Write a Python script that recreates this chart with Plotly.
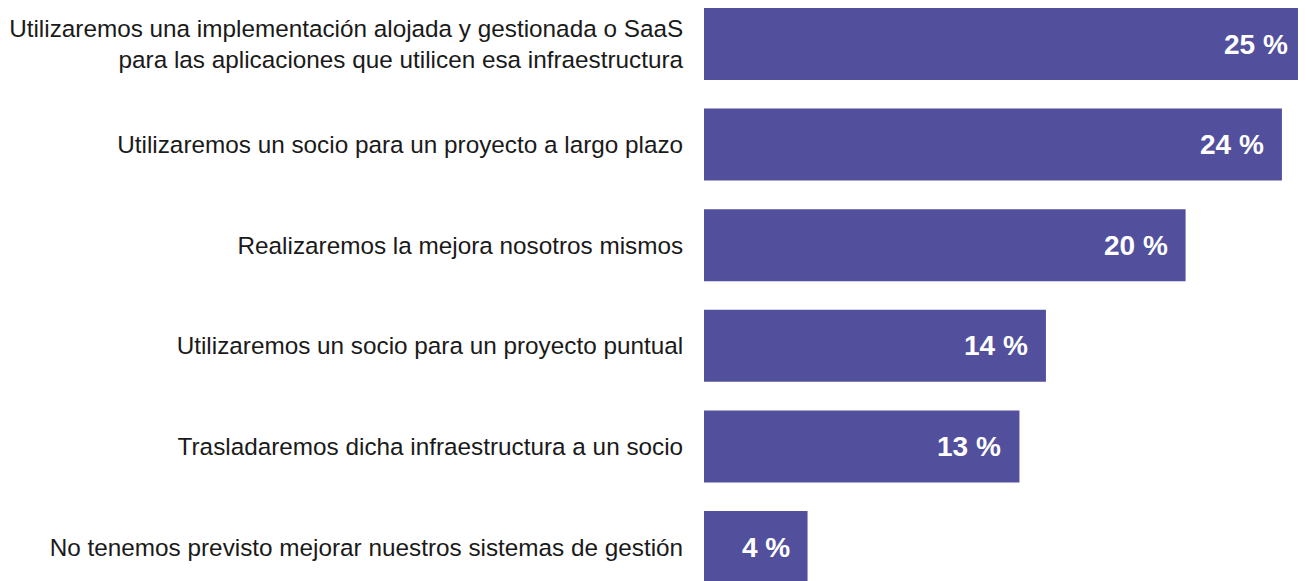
"""Plan de mejora de sistemas de gestión — barras horizontales"""
import plotly.graph_objects as go

categories = [
    "Utilizaremos una implementación alojada y gestionada o SaaS<br>para las aplicaciones que utilicen esa infraestructura",
    "Utilizaremos un socio para un proyecto a largo plazo",
    "Realizaremos la mejora nosotros mismos",
    "Utilizaremos un socio para un proyecto puntual",
    "Trasladaremos dicha infraestructura a un socio",
    "No tenemos previsto mejorar nuestros sistemas de gestión",
]
values = [25.0, 24.0, 20.0, 14.2, 13.1, 4.3]
labels = [f"{round(v)} %" for v in values]

BAR_COLOR = "#524F9C"
FONT = "Liberation Sans, Arial, sans-serif"

fig = go.Figure(
    go.Bar(
        x=values,
        y=categories,
        orientation="h",
        marker=dict(color=BAR_COLOR, line=dict(width=0)),
        hoverinfo="skip",
    )
)

# etiquetas de valor dentro de la barra, alineadas a la derecha
for cat, v, lab in zip(categories, values, labels):
    fig.add_annotation(
        x=v, y=cat, text=lab,
        xanchor="right", yanchor="middle", xshift=-16,
        showarrow=False,
        font=dict(family=FONT, size=28, color="white", weight="bold"),
    )

# la página añade 8 px de margen al body: el tamaño lo compensa
fig.update_layout(
    width=1298,
    height=573,
    margin=dict(l=696, r=0, t=0, b=0),
    paper_bgcolor="white",
    plot_bgcolor="white",
    bargap=0.284,
    showlegend=False,
    font=dict(family=FONT, size=24.3, color="#1a1a1a"),
    xaxis=dict(range=[0, 25], visible=False, fixedrange=True),
    yaxis=dict(
        type="category",
        range=[5.338, -0.358],
        showgrid=False, zeroline=False, showline=False,
        ticks="outside", ticklen=15, tickcolor="rgba(0,0,0,0)",
        tickfont=dict(family=FONT, size=24.3, color="#1a1a1a"),
        fixedrange=True,
    ),
)

fig.write_html("out.html")
